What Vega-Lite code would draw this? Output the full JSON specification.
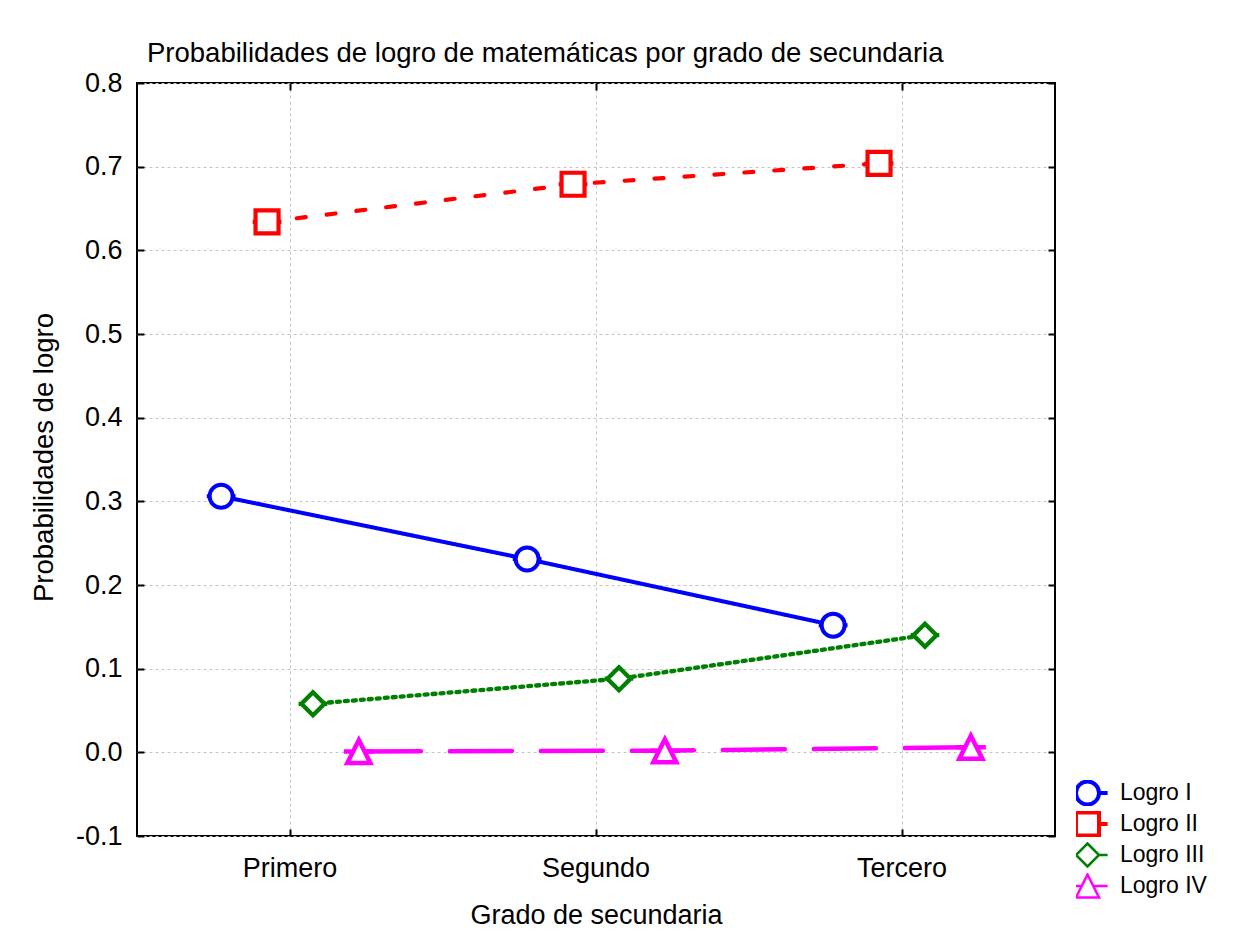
{
  "$schema": "https://vega.github.io/schema/vega-lite/v6.json",
  "width": 918,
  "height": 753,
  "autosize": {"type": "none"},
  "padding": {"left": 137, "top": 83, "right": 186, "bottom": 103},
  "background": "white",
  "title": {
    "text": "Probabilidades de logro de matemáticas por grado de secundaria",
    "anchor": "start",
    "frame": "group",
    "dx": 10,
    "offset": -20,
    "baseline": "alphabetic",
    "font": "Liberation Sans",
    "fontSize": 27.5,
    "fontWeight": "normal",
    "color": "black"
  },
  "data": {
    "values": [
      {"grado": "Primero", "serie": "Logro I", "p": 0.306},
      {"grado": "Segundo", "serie": "Logro I", "p": 0.231},
      {"grado": "Tercero", "serie": "Logro I", "p": 0.152},
      {"grado": "Primero", "serie": "Logro II", "p": 0.634},
      {"grado": "Segundo", "serie": "Logro II", "p": 0.679},
      {"grado": "Tercero", "serie": "Logro II", "p": 0.704},
      {"grado": "Primero", "serie": "Logro III", "p": 0.058},
      {"grado": "Segundo", "serie": "Logro III", "p": 0.088},
      {"grado": "Tercero", "serie": "Logro III", "p": 0.14},
      {"grado": "Primero", "serie": "Logro IV", "p": 0.001},
      {"grado": "Segundo", "serie": "Logro IV", "p": 0.002},
      {"grado": "Tercero", "serie": "Logro IV", "p": 0.006}
    ]
  },
  "config": {
    "view": {"stroke": "black", "strokeWidth": 2},
    "axis": {
      "labelFont": "Liberation Sans",
      "titleFont": "Liberation Sans",
      "labelColor": "black",
      "titleColor": "black",
      "tickColor": "black",
      "tickWidth": 2,
      "domain": false,
      "gridColor": "#c4c4c4",
      "gridDash": [3, 3],
      "gridWidth": 1
    }
  },
  "resolve": {"axis": {"x": "independent", "y": "independent"}},
  "layer": [
    {
      "mark": {"type": "line", "strokeCap": "round"},
      "encoding": {
        "x": {
          "field": "grado",
          "type": "nominal",
          "sort": ["Primero", "Segundo", "Tercero"],
          "scale": {"paddingInner": 0.4, "paddingOuter": 0.2},
          "axis": {
            "orient": "bottom",
            "title": "Grado de secundaria",
            "titleFontSize": 27,
            "titleFontWeight": "normal",
            "titleBaseline": "alphabetic",
            "titleY": 87,
            "labelFontSize": 27,
            "labelAngle": 0,
            "labelBaseline": "alphabetic",
            "tickSize": -7,
            "labelPadding": 47,
            "grid": true,
            "bandPosition": 0.5
          }
        },
        "xOffset": {"field": "serie", "type": "nominal"},
        "y": {
          "field": "p",
          "type": "quantitative",
          "scale": {"domain": [-0.1, 0.8], "nice": false, "zero": false},
          "axis": {
            "orient": "left",
            "title": "Probabilidades de logro",
            "titleFontSize": 27.5,
            "titleFontWeight": "normal",
            "titleBaseline": "alphabetic",
            "titleX": -85,
            "titleY": 374,
            "values": [-0.1, 0, 0.1, 0.2, 0.3, 0.4, 0.5, 0.6, 0.7, 0.8],
            "labelExpr": "replace(format(datum.value, '.1f'), '\u2212', '-')",
            "labelFontSize": 27,
            "tickSize": -7,
            "labelPadding": 22,
            "grid": true
          }
        },
        "color": {
          "field": "serie",
          "type": "nominal",
          "scale": {"range": ["#0000ff", "#ff0000", "#008000", "#ff00ff"]},
          "legend": null
        },
        "strokeDash": {
          "field": "serie",
          "type": "nominal",
          "scale": {"range": [[1, 0], [9, 21], [3, 5], [62, 29]]},
          "legend": null
        },
        "strokeWidth": {
          "field": "serie",
          "type": "ordinal",
          "scale": {"range": [4, 4.5, 2, 4.5]},
          "legend": null
        }
      }
    },
    {
      "mark": {"type": "point", "filled": false, "fill": "white", "fillOpacity": 1, "opacity": 1, "size": 529},
      "encoding": {
        "x": {
          "field": "grado",
          "type": "nominal",
          "sort": ["Primero", "Segundo", "Tercero"],
          "axis": {
            "orient": "top",
            "title": null,
            "labels": false,
            "tickSize": -7,
            "grid": false,
            "minExtent": 0,
            "maxExtent": 0,
            "bandPosition": 0.5
          }
        },
        "xOffset": {"field": "serie", "type": "nominal"},
        "y": {
          "field": "p",
          "type": "quantitative",
          "axis": {
            "orient": "right",
            "title": null,
            "labels": false,
            "values": [-0.1, 0, 0.1, 0.2, 0.3, 0.4, 0.5, 0.6, 0.7, 0.8],
            "tickSize": -7,
            "minExtent": 0,
            "maxExtent": 0,
            "grid": false
          }
        },
        "stroke": {
          "field": "serie",
          "type": "nominal",
          "scale": {
            "domain": ["Logro I", "Logro II", "Logro III", "Logro IV"],
            "range": ["#0000ff", "#ff0000", "#008000", "#ff00ff"]
          },
          "legend": {
            "orient": "none",
            "legendX": 939,
            "legendY": 697,
            "title": null,
            "padding": 0,
            "labelFont": "Liberation Sans",
            "labelFontSize": 23,
            "labelColor": "black",
            "labelOffset": 21,
            "rowPadding": 5,
            "clipHeight": 26,
            "symbolSize": 529,
            "symbolFillColor": "white",
            "symbolStrokeWidth": 4,
            "encoding": {
              "symbols": {
                "shape": {"value": {"expr": "datum.value === 'Logro I' ? 'M-1.85,0L-1,0M1,0L1.75,0M1,0A1,1,0,1,1,-1,0A1,1,0,1,1,1,0Z' : datum.value === 'Logro II' ? 'M-1.85,0L-1,0M1,0L1.75,0M-1,-1L1,-1L1,1L-1,1Z' : datum.value === 'Logro III' ? 'M-1.85,0L-1,0M1,0L1.75,0M0,-1L1,0L0,1L-1,0Z' : 'M-1.85,0L-0.5,0M0.5,0L1.75,0M0,-1L1,1L-1,1Z'"}},
                "strokeWidth": {"value": {"expr": "datum.value === 'Logro I' || datum.value === 'Logro II' ? 4 : 2.5"}},
                "fill": {"value": "white"},
                "fillOpacity": {"value": 1},
                "opacity": {"value": 1},
                "size": {"value": 529}
              }
            }
          }
        },
        "shape": {
          "field": "serie",
          "type": "nominal",
          "scale": {
            "range": [
              "M-1.25,0L-1,0M1,0L1.25,0M1,0A1,1,0,1,1,-1,0A1,1,0,1,1,1,0Z",
              "M-1.25,0L-1,0M1,0L1.25,0M-1,-1L1,-1L1,1L-1,1Z",
              "M-1.25,0L-1,0M1,0L1.25,0M0,-1L1,0L0,1L-1,0Z",
              "M-1.3,0L-0.5,0M0.5,0L1.3,0M0,-1L1,1L-1,1Z"
            ]
          },
          "legend": null
        },
        "strokeWidth": {
          "field": "serie",
          "type": "ordinal",
          "scale": {"range": [4, 4, 2.7, 2.3]},
          "legend": null
        }
      }
    }
  ]
}
